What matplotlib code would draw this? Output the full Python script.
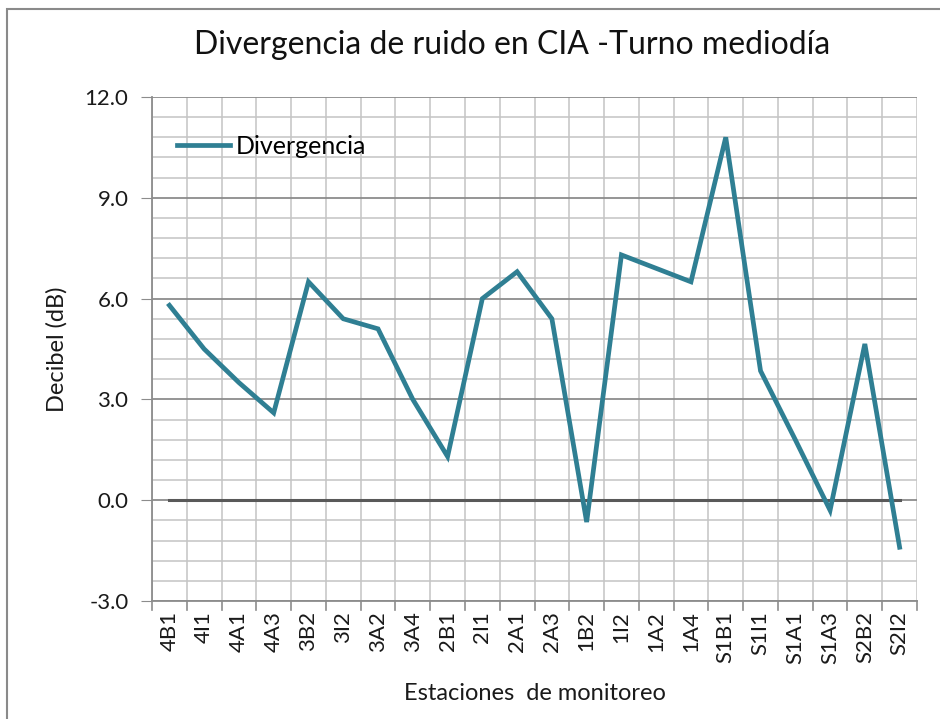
import numpy as np
import matplotlib
matplotlib.use("Agg")
import matplotlib.pyplot as plt
from matplotlib.patches import Rectangle
from matplotlib.ticker import MultipleLocator

plt.rcParams['font.family'] = ['Lato', 'DejaVu Sans']

########## data
estaciones = ["4B1", "4I1", "4A1", "4A3", "3B2", "3I2", "3A2", "3A4", "2B1", "2I1", "2A1",
              "2A3", "1B2", "1I2", "1A2", "1A4", "S1B1", "S1I1", "S1A1", "S1A3", "S2B2", "S2I2"]
divergencia = [5.8, 4.5, 3.5, 2.6, 6.5, 5.4, 5.1, 3.0, 1.3, 6.0, 6.8,
               5.4, -0.65, 7.3, 6.9, 6.5, 10.8, 3.85, 1.8, -0.3, 4.65, -1.4]
referencia = [0.0] * len(estaciones)
yticks = [-3.0, 0.0, 3.0, 6.0, 9.0, 12.0]

########## figure
fig = plt.figure(figsize=(9.4, 7.19), dpi=100)
fig.set_facecolor('w')
ax = fig.add_axes([152/940, 1 - 601/719, 765/940, 504/719])

x = np.arange(len(estaciones))
ax.plot(x, referencia, color='#595959', lw=2.2, zorder=3)
ax.plot(x, divergencia, color='#2F7F93', lw=3.4, label='Divergencia', zorder=4,
        solid_joinstyle='miter')

ax.set_xlim(-0.5, len(estaciones) - 0.5)
ax.set_ylim(-3, 12)

# grid: major every 3 dB, minor every 0.6 dB, vertical lines every half station
ax.set_yticks(yticks)
ax.set_yticklabels(["%.1f" % v for v in yticks], fontsize=16, color='#1a1a1a')
ax.yaxis.set_minor_locator(MultipleLocator(0.6))
ax.set_xticks(x)
ax.set_xticklabels(estaciones, rotation=90, fontsize=16, color='#1a1a1a')
ax.set_xticks(np.arange(-0.5, len(estaciones), 0.5), minor=True)

ax.grid(which='major', axis='y', color='#8c8c8c', lw=1.3)
ax.grid(which='minor', axis='y', color='#c4c4c4', lw=1.1)
ax.grid(which='minor', axis='x', color='#c4c4c4', lw=1.1)
ax.set_axisbelow(True)

ax.tick_params(axis='x', which='major', length=0, pad=7)
ax.tick_params(axis='x', which='minor', length=0)
ax.tick_params(axis='y', which='major', length=8, color='#8c8c8c', pad=9)
ax.tick_params(axis='y', which='minor', length=0)

# boundary ticks below the x axis
for b in np.arange(-0.5, len(estaciones), 1.0):
    ax.plot([b, b], [0, -0.018], transform=ax.get_xaxis_transform(), color='#8c8c8c',
            lw=1.2, clip_on=False)

for side in ['top', 'right']:
    ax.spines[side].set_visible(False)
for side in ['left', 'bottom']:
    ax.spines[side].set_color('#8c8c8c')
    ax.spines[side].set_linewidth(1.3)

ax.set_ylabel("Decibel (dB)", fontsize=17, color='#1a1a1a', labelpad=12)
ax.set_xlabel("Estaciones  de monitoreo", fontsize=17, color='#1a1a1a', labelpad=14)
fig.text(0.545, 1 - 45/719, "Divergencia de ruido en CIA -Turno mediodía",
         fontsize=23, ha='center', va='center', color='#111111')

ax.legend(loc='upper left', bbox_to_anchor=(0.0, 0.975), frameon=False, fontsize=18,
          handlelength=2.1, handletextpad=0.25, borderaxespad=0.6)

# outer frame of the chart area
fig.add_artist(Rectangle((7/940, -0.1), 1.2, 1.1 - 9/719, transform=fig.transFigure,
                         fill=False, edgecolor='#8a8a8a', lw=1.5))

plt.savefig('out.png', dpi=100, facecolor='w')
